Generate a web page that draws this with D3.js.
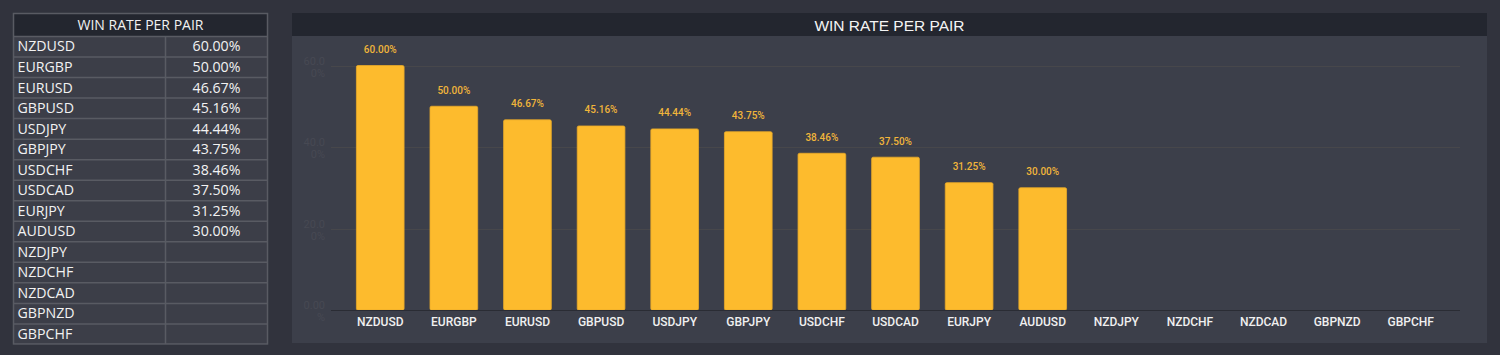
<!DOCTYPE html>
<html><head><meta charset="utf-8">
<script src="https://cdn.jsdelivr.net/npm/d3@7/dist/d3.min.js"></script>
<style>
html,body{margin:0;padding:0;background:#31333d;}
svg{display:block;}
</style></head>
<body>
<svg id="c" width="1500" height="355"></svg>
<script>
const title = "WIN RATE PER PAIR";
const pairs = ["NZDUSD","EURGBP","EURUSD","GBPUSD","USDJPY","GBPJPY","USDCHF","USDCAD","EURJPY","AUDUSD","NZDJPY","NZDCHF","NZDCAD","GBPNZD","GBPCHF"];
const winRates = [60.00,50.00,46.67,45.16,44.44,43.75,38.46,37.50,31.25,30.00,null,null,null,null,null];
const yTicks = [0,20,40,60];
const yTickLines = [["0.00","%"],["20.0","0%"],["40.0","0%"],["60.0","0%"]];

const svg = d3.select("#c");
svg.append("rect").attr("width",1500).attr("height",355).attr("fill","#31333d");

// ---------- Table ----------
const tX0 = 13.5, tX1 = 267.5, tY0 = 13.5, tHead = 36, rowH = 20.53, colX = 165.5;
const tFont = "'Open Sans', sans-serif";
const tbl = svg.append("g");
tbl.append("rect").attr("x",tX0).attr("y",tY0).attr("width",tX1-tX0).attr("height",tHead-tY0)
  .attr("fill","#23262f");
tbl.append("rect").attr("x",tX0).attr("y",tHead).attr("width",tX1-tX0).attr("height",rowH*pairs.length)
  .attr("fill","#3c3e48");
tbl.append("text").attr("x",(tX0+tX1)/2).attr("y",30).attr("text-anchor","middle")
  .attr("fill","#f2f2f2").attr("font-family",tFont).attr("font-size",14)
  .text(title);
const rowScale = d3.scaleBand().domain(pairs).range([tHead, tHead+rowH*pairs.length]);
const rows = tbl.selectAll("g.row").data(pairs).join("g").attr("class","row");
rows.append("line").attr("x1",tX0).attr("x2",tX1)
  .attr("y1",d=>rowScale(d)+0.5).attr("y2",d=>rowScale(d)+0.5)
  .attr("stroke","#595b63").attr("stroke-width",1.5);
rows.append("text").attr("x",17.5).attr("y",d=>rowScale(d)+rowH/2+5.2)
  .attr("fill","#f2f2f2").attr("font-family",tFont).attr("font-size",14.2)
  .text(d=>d);
rows.append("text").attr("x",(colX+tX1)/2).attr("y",d=>rowScale(d)+rowH/2+5.2).attr("text-anchor","middle")
  .attr("fill","#f2f2f2").attr("font-family",tFont).attr("font-size",14.2)
  .text((d,i)=>winRates[i]==null?"":winRates[i].toFixed(2)+"%");
tbl.append("line").attr("x1",colX).attr("x2",colX).attr("y1",tHead).attr("y2",tHead+rowH*pairs.length)
  .attr("stroke","#595b63").attr("stroke-width",1.5);
tbl.append("rect").attr("x",tX0).attr("y",tY0).attr("width",tX1-tX0).attr("height",tHead+rowH*pairs.length-tY0)
  .attr("fill","none").attr("stroke","#595b63").attr("stroke-width",1.5);

// ---------- Chart panel ----------
const pX0 = 292, pX1 = 1487, pY0 = 13, pY1 = 343, pHead = 36;
svg.append("rect").attr("x",pX0).attr("y",pY0).attr("width",pX1-pX0).attr("height",pY1-pY0).attr("fill","#3c3f4a");
svg.append("rect").attr("x",pX0).attr("y",pY0).attr("width",pX1-pX0).attr("height",pHead-pY0).attr("fill","#23262f");
svg.append("text").attr("x",(pX0+pX1)/2).attr("y",30.5).attr("text-anchor","middle")
  .attr("fill","#f4f4f4").attr("font-family","'Liberation Sans', Arial, sans-serif").attr("font-size",15.5)
  .text(title);

const plotL = 331, plotR = 1460;
const x = d3.scaleBand().domain(pairs).range([plotL, plotR]).paddingInner(0.352).paddingOuter(0.345);
const y = d3.scaleLinear().domain([0,60]).range([310,65.5]);

const grid = svg.append("g");
grid.selectAll("line").data(yTicks.filter(t=>t>0)).join("line")
  .attr("x1",plotL).attr("x2",plotR).attr("y1",d=>Math.round(y(d))+0.5).attr("y2",d=>Math.round(y(d))+0.5)
  .attr("stroke","#47474b").attr("stroke-width",1);

// y tick labels (two-line, very dim)
const yl = svg.append("g");
yTicks.forEach((t,i)=>{
  const tx = yl.append("text").attr("text-anchor","end").attr("fill","#474953")
    .attr("font-family","Roboto, sans-serif").attr("font-size",11);
  tx.append("tspan").attr("x",325).attr("y",y(t)-1).text(yTickLines[i][0]);
  tx.append("tspan").attr("x",325).attr("y",y(t)+11).text(yTickLines[i][1]);
});

// bars
const data = pairs.map((p,i)=>({p, v:winRates[i]})).filter(d=>d.v!=null);
svg.append("g").selectAll("rect").data(data).join("rect")
  .attr("x",d=>x(d.p)).attr("width",x.bandwidth())
  .attr("y",d=>y(d.v)).attr("height",d=>y(0)-y(d.v))
  .attr("rx",1.5)
  .attr("fill","#fdbb2d").attr("stroke","#e8a928").attr("stroke-width",0.8);

// baseline
svg.append("line").attr("x1",plotL).attr("x2",plotR).attr("y1",310.5).attr("y2",310.5)
  .attr("stroke","#2a2c34").attr("stroke-width",1.2);

// value labels
svg.append("g").selectAll("text").data(data).join("text")
  .attr("x",d=>x(d.p)+x.bandwidth()/2).attr("y",d=>y(d.v)-12.5)
  .attr("text-anchor","middle").attr("fill","#f1b53a")
  .attr("font-family","Roboto, sans-serif").attr("font-size",10).attr("font-weight",500)
  .text(d=>d.v.toFixed(2)+"%");

// x axis labels
const xAxis = d3.axisBottom(x).tickSize(0).tickPadding(0);
const xg = svg.append("g").attr("transform","translate(0,310)").call(xAxis);
xg.select(".domain").remove();
xg.selectAll("text").attr("y",16).attr("dy",0).attr("fill","#f0f0f0")
  .attr("font-family","Roboto, sans-serif").attr("font-size",12).attr("font-weight",500);
</script>
</body></html>
